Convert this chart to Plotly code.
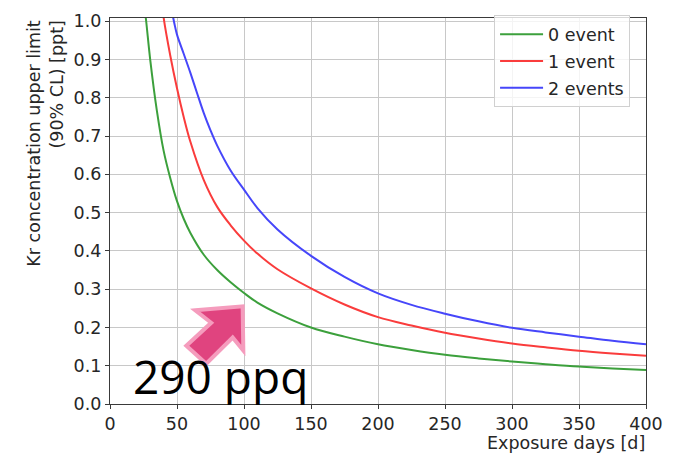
import plotly.graph_objects as go

# ---------------- data ----------------
x_green = [25, 27, 30, 35, 40, 45, 50, 55, 60, 70, 80, 90, 100, 110, 125, 150, 175, 200,
           225, 250, 275, 300, 325, 350, 375, 400]
y_green = [1.06, 1.0, 0.9, 0.766, 0.662, 0.59, 0.53, 0.484, 0.447, 0.39, 0.35, 0.318, 0.29,
           0.265, 0.237, 0.2, 0.176, 0.156, 0.141, 0.1285, 0.119, 0.111, 0.104, 0.0977,
           0.093, 0.089]

x_red = [38, 40, 45, 50, 55, 60, 70, 80, 90, 100, 110, 125, 150, 175, 200, 225, 250, 275,
         300, 325, 350, 375, 400]
y_red = [1.07, 1.01, 0.91, 0.825, 0.75, 0.685, 0.585, 0.515, 0.467, 0.427, 0.393, 0.352,
         0.302, 0.26, 0.227, 0.205, 0.186, 0.171, 0.158, 0.148, 0.139, 0.132, 0.126]

x_blue = [46, 48, 50, 55, 60, 65, 70, 75, 80, 90, 100, 110, 125, 150, 175, 200, 225, 250,
          275, 300, 325, 350, 375, 400]
y_blue = [1.03, 0.995, 0.965, 0.915, 0.865, 0.812, 0.76, 0.715, 0.675, 0.61, 0.56, 0.512,
          0.456, 0.387, 0.332, 0.289, 0.259, 0.236, 0.216, 0.199, 0.187, 0.176, 0.165, 0.156]

series_names = ["0 event", "1 event", "2 events"]
x_ticks = [0, 50, 100, 150, 200, 250, 300, 350, 400]
y_ticks = [0.0, 0.1, 0.2, 0.3, 0.4, 0.5, 0.6, 0.7, 0.8, 0.9, 1.0]
y_tick_text = [f"{v:.1f}" for v in y_ticks]

# ---------------- layout geometry ----------------
W, H = 674, 453
L, R, T, B = 110, 25.3, 11.7, 48.7
PW, PH = W - L - R, H - T - B


def px(xp):
    return (xp - L) / PW


def py(yp):
    return (H - B - yp) / PH


FONT = "DejaVu Sans"
FS = 17.5
TXT = "#262626"

fig = go.Figure()
colors = ["rgb(60,160,60)", "rgb(250,60,60)", "rgb(70,70,250)"]
for xs, ys, name, c in zip([x_green, x_red, x_blue], [y_green, y_red, y_blue],
                           series_names, colors):
    fig.add_trace(go.Scatter(x=xs, y=ys, mode="lines", name=name, legendgroup=name,
                             line=dict(color=c, width=2, shape="spline", smoothing=1.0)))

axis_common = dict(
    showgrid=True, gridcolor="#c8c8c8", gridwidth=1.3,
    showline=True, linecolor="#3a3a3a", linewidth=1.3, mirror=True,
    ticks="outside", ticklen=4, tickwidth=1.2, tickcolor="#3a3a3a",
    tickfont=dict(family=FONT, size=FS, color=TXT), zeroline=False,
)

fig.update_layout(
    width=W, height=H,
    margin=dict(l=L, r=R, t=T, b=B, pad=0),
    paper_bgcolor="white", plot_bgcolor="white",
    xaxis=dict(range=[0, 400], tickvals=x_ticks, **axis_common),
    yaxis=dict(range=[0, 1.0085], tickvals=y_ticks, ticktext=y_tick_text, **axis_common),
    showlegend=True,
    legend=dict(x=px(496), y=py(9), xanchor="left", yanchor="top",
                bgcolor="rgba(255,255,255,0.8)", bordercolor="#d0d0d0", borderwidth=1,
                font=dict(family=FONT, size=FS, color=TXT), tracegroupgap=1,
                itemwidth=43),
    font=dict(family=FONT, color=TXT),
)

# axis titles (matplotlib-like placement)
fig.add_annotation(text="Exposure days [d]", xref="paper", yref="paper",
                   x=px(650), y=py(444), xanchor="right", yanchor="middle",
                   showarrow=False, font=dict(family=FONT, size=FS, color=TXT))
fig.add_annotation(text="Kr concentration upper limit", xref="paper", yref="paper",
                   x=px(34), y=py(12), xanchor="center", yanchor="top", textangle=-90,
                   showarrow=False, font=dict(family=FONT, size=FS, color=TXT))
fig.add_annotation(text="(90% CL) [ppt]", xref="paper", yref="paper",
                   x=px(57), y=py(12), xanchor="center", yanchor="top", textangle=-90,
                   showarrow=False, font=dict(family=FONT, size=FS, color=TXT))

# pink block arrow (decoration)
pts = [(195.7, 309), (243.3, 305), (244, 350), (233.3, 336.7), (206.7, 363.3),
       (186.7, 345), (211.7, 321.7)]
path = "M " + " L ".join(f"{px(a):.5f},{py(b):.5f}" for a, b in pts) + " Z"
fig.add_shape(type="path", xref="paper", yref="paper", path=path,
              fillcolor="#e0447f", line=dict(color="#f59cbd", width=4))

fig.add_annotation(text="290 ppq", xref="paper", yref="paper",
                   x=px(221.5), y=py(376), xanchor="center", yanchor="middle",
                   showarrow=False, font=dict(family="Open Sans", size=46, color="black"))

fig.write_html("out.html")
